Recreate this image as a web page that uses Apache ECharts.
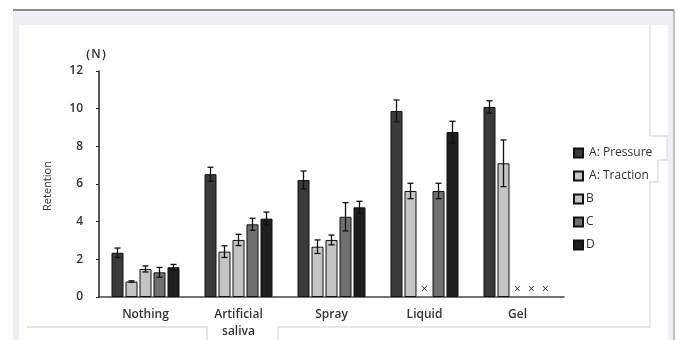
<!DOCTYPE html>
<html><head><meta charset="utf-8">
<script src="https://cdn.jsdelivr.net/npm/echarts@6/dist/echarts.min.js"></script>
<style>html,body{margin:0;padding:0;background:#fff}#c{width:677px;height:340px}</style>
</head><body><div id="c"></div>
<script>
const categories = ['Nothing', 'Artificial\nsaliva', 'Spray', 'Liquid', 'Gel'];
const seriesNames = ['A: Pressure', 'A: Traction', 'B', 'C', 'D'];
const aPressure = [2.35, 6.52, 6.21, 9.88, 10.09];
const aPressureErr = [0.25, 0.37, 0.48, 0.58, 0.33];
const aTraction = [0.82, 2.41, 2.67, 5.63, 7.1];
const aTractionErr = [0.04, 0.31, 0.36, 0.41, 1.24];
const bVals = [1.49, 3.03, 3.03, 0, 0];
const bErr = [0.16, 0.3, 0.26, 0, 0];
const cVals = [1.31, 3.86, 4.26, 5.63, 0];
const cErr = [0.26, 0.32, 0.75, 0.41, 0];
const dVals = [1.58, 4.16, 4.76, 8.76, 0];
const dErr = [0.15, 0.35, 0.32, 0.57, 0];
const yTicks = [0, 2, 4, 6, 8, 10, 12];

const values = [aPressure, aTraction, bVals, cVals, dVals];
const errors = [aPressureErr, aTractionErr, bErr, cErr, dErr];
const colors = ['#3a3a3a', '#c4c4c4', '#c4c4c4', '#707070', '#1e1e1e'];

const BAR_W = 12, GAP = 2;
const groupW = 5 * BAR_W + 4 * GAP;
const font = '"Open Sans", "DejaVu Sans", sans-serif';

const series = [];
values.forEach((vals, si) => {
  series.push({
    name: seriesNames[si], type: 'bar', barWidth: BAR_W, barGap: (GAP / BAR_W * 100) + '%',
    barCategoryGap: '27%',
    itemStyle: { color: colors[si], borderColor: '#111', borderWidth: 1 },
    data: vals.map(v => v === 0 ? {
      value: 0, itemStyle: { borderWidth: 0, color: 'rgba(0,0,0,0)' },
      label: { show: true, position: 'top', distance: 1, formatter: '×', fontSize: 12, color: '#333', fontFamily: font }
    } : v),
    z: 2
  });
});
values.forEach((vals, si) => {
  const offset = -groupW / 2 + BAR_W / 2 + si * (BAR_W + GAP);
  series.push({
    type: 'custom', name: seriesNames[si] + ' err', z: 5, silent: true,
    data: vals.map((v, i) => [i, v, errors[si][i]]),
    renderItem: (params, api) => {
      const v = api.value(1), e = api.value(2);
      if (!v || !e) return null;
      const lo = api.coord([api.value(0), v - e]);
      const hi = api.coord([api.value(0), v + e]);
      const x = lo[0] + offset;
      const st = { stroke: '#111', lineWidth: 1.3 };
      return { type: 'group', children: [
        { type: 'line', shape: { x1: x, y1: lo[1], x2: x, y2: hi[1] }, style: st },
        { type: 'line', shape: { x1: x - 3, y1: lo[1], x2: x + 3, y2: lo[1] }, style: st },
        { type: 'line', shape: { x1: x - 3, y1: hi[1], x2: x + 3, y2: hi[1] }, style: st }
      ]};
    }
  });
});

const chart = echarts.init(document.getElementById('c'));
chart.setOption({
  animation: false,
  textStyle: { fontFamily: font },
  grid: { left: 99, right: 113, top: 71, bottom: 43 },
  legend: {
    data: seriesNames, orient: 'vertical', left: 568, top: 142,
    itemWidth: 9, itemHeight: 9, itemGap: 11,
    icon: 'rect',
    formatter: n => n.startsWith('A') ? ' ' + n : n,
    textStyle: { fontSize: 12, color: '#333', fontFamily: font, padding: [0, 0, 0, -2] }
  },
  graphic: [
    { type: 'rect', z: -10, shape: { x: 13, y: 10, width: 661, height: 330 }, style: { fill: '#eff0f5' } },
    { type: 'rect', z: -9, shape: { x: 19, y: 25, width: 649, height: 315 }, style: { fill: '#ffffff' } },
    { type: 'line', z: -8, shape: { x1: 13, y1: 10, x2: 674, y2: 10 }, style: { stroke: '#666', lineWidth: 1.5 } },
    { type: 'line', z: -8, shape: { x1: 674, y1: 10, x2: 674, y2: 340 }, style: { stroke: '#888', lineWidth: 1 } },
    { type: 'polyline', z: -8, shape: { points: [[650, 25], [650, 136], [667, 136], [667, 160], [658, 160], [658, 182], [650, 182], [650, 327], [278, 327], [278, 340]] }, style: { stroke: '#e2e2e2', lineWidth: 1.5, fill: null } },
    { type: 'polyline', z: -8, shape: { points: [[27, 327], [207, 327], [207, 340]] }, style: { stroke: '#dcdcdc', lineWidth: 1.5, fill: null } },
    { type: 'text', rotation: Math.PI / 2, x: 48, y: 186, style: { text: 'Retention', fontSize: 11, fill: '#333', fontFamily: font, align: 'center', verticalAlign: 'middle' } }
  ],
  xAxis: {
    type: 'category', data: categories,
    axisLine: { lineStyle: { color: '#444', width: 1.5 } },
    axisTick: { show: false },
    axisLabel: { fontSize: 12, color: '#333', margin: 9, lineHeight: 17, fontFamily: font, fontWeight: 600 }
  },
  yAxis: {
    type: 'value', min: 0, max: 12, interval: 2,
    name: '（N）', nameLocation: 'end', nameGap: 10,
    nameTextStyle: { fontSize: 12, color: '#333', align: 'center', padding: [0, 6, 0, 0], fontFamily: font, fontWeight: 600 },
    axisLine: { show: true, lineStyle: { color: '#222', width: 1.5 } },
    axisTick: { show: true, length: 3, inside: false, lineStyle: { color: '#222' } },
    splitLine: { show: false },
    axisLabel: { fontSize: 12, color: '#333', margin: 16, fontFamily: font, fontWeight: 600,
      formatter: v => yTicks.includes(v) ? String(v) : '' }
  },
  series
});
</script></body></html>
